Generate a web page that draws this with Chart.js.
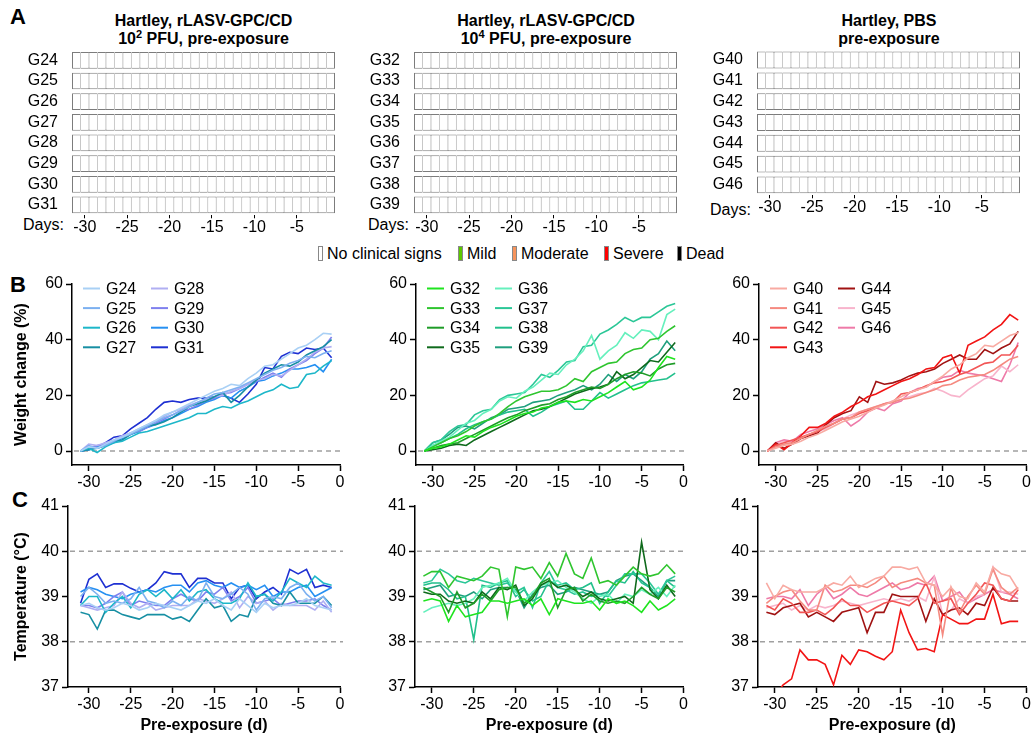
<!DOCTYPE html>
<html>
<head>
<meta charset="utf-8">
<title>Clinical signs, weight and temperature, pre-exposure</title>
<script src="https://cdn.jsdelivr.net/npm/chart.js@4.4.1/dist/chart.umd.min.js"></script>
<style>
  body { margin: 0; background: #fff; }
  #fig { position: relative; width: 1033px; height: 735px; overflow: hidden; font-family: "Liberation Sans", Arial, sans-serif; color: #000; }
  #fig canvas { position: absolute; }
  .t { position: absolute; white-space: nowrap; font-size: 16px; line-height: 16px; }
  .panel { font-size: 22px; line-height: 22px; font-weight: bold; }
  .head { width: 400px; text-align: center; font-weight: bold; line-height: 18px; }
  .sup { font-size: 11px; position: relative; top: -6px; }
  .sw { position: absolute; top: 0; width: 5px; height: 15px; box-sizing: border-box; border: 1px solid #888; }
</style>
</head>
<body>
<div id="fig">
  <div class="t panel" style="left:10px;top:6px">A</div>
  <div class="t panel" style="left:10px;top:274px">B</div>
  <div class="t panel" style="left:12px;top:489px">C</div>

  <div class="t head" style="left:3.5px;top:12px">Hartley, rLASV-GPC/CD<br>10<span class="sup">2</span> PFU, pre-exposure</div>
  <div class="t head" style="left:346px;top:12px">Hartley, rLASV-GPC/CD<br>10<span class="sup">4</span> PFU, pre-exposure</div>
  <div class="t head" style="left:689px;top:12px">Hartley, PBS<br>pre-exposure</div>

  <div class="t" style="left:23px;top:216.5px">Days:</div>
  <div class="t" style="left:368px;top:216.5px">Days:</div>
  <div class="t" style="left:710px;top:201.5px">Days:</div>

  <div id="signLegend"></div>

  <canvas id="a1" width="345" height="240" style="left:0;top:0"></canvas>
  <canvas id="a2" width="340" height="240" style="left:345px;top:0"></canvas>
  <canvas id="a3" width="348" height="220" style="left:685px;top:0"></canvas>

  <canvas id="b1" width="350" height="225" style="left:0;top:265px"></canvas>
  <canvas id="b2" width="340" height="225" style="left:350px;top:265px"></canvas>
  <canvas id="b3" width="343" height="225" style="left:690px;top:265px"></canvas>

  <canvas id="c1" width="350" height="245" style="left:0;top:490px"></canvas>
  <canvas id="c2" width="340" height="245" style="left:350px;top:490px"></canvas>
  <canvas id="c3" width="343" height="245" style="left:690px;top:490px"></canvas>
</div>

<script>
'use strict';

// days relative to exposure
const days = [-31,-30,-29,-28,-27,-26,-25,-24,-23,-22,-21,-20,-19,-18,-17,-16,-15,-14,-13,-12,-11,-10,-9,-8,-7,-6,-5,-4,-3,-2,-1];
const dayTicksA = [-30,-25,-20,-15,-10,-5];
const dayTicks = [-30,-25,-20,-15,-10,-5,0];
const weightTicks = [0,20,40,60];
const tempTicks = [37,38,39,40,41];

const groups1 = ['G24','G25','G26','G27','G28','G29','G30','G31'];
const groups2 = ['G32','G33','G34','G35','G36','G37','G38','G39'];
const groups3 = ['G40','G41','G42','G43','G44','G45','G46'];

const signLevels = ['No clinical signs','Mild','Moderate','Severe','Dead'];

// clinical score, one digit per day (-31 .. -1); 0 = no clinical signs
const signs1 = [
  '0000000000000000000000000000000','0000000000000000000000000000000',
  '0000000000000000000000000000000','0000000000000000000000000000000',
  '0000000000000000000000000000000','0000000000000000000000000000000',
  '0000000000000000000000000000000','0000000000000000000000000000000'
];
const signs2 = [
  '0000000000000000000000000000000','0000000000000000000000000000000',
  '0000000000000000000000000000000','0000000000000000000000000000000',
  '0000000000000000000000000000000','0000000000000000000000000000000',
  '0000000000000000000000000000000','0000000000000000000000000000000'
];
const signs3 = [
  '0000000000000000000000000000000','0000000000000000000000000000000',
  '0000000000000000000000000000000','0000000000000000000000000000000',
  '0000000000000000000000000000000','0000000000000000000000000000000',
  '0000000000000000000000000000000'
];

// weight change (%)
const weightG24 = [0,1.5,1,2.5,4, 5,6.5,8,9.5,11, 13,14,15.5,17,18.5, 20,21.5,22.5,24,23.5, 26,28,30.5,31,33, 35,37,38,40,42.3,42];
const weightG25 = [0,2,1,2,3.5, 5,6,7.5,9,10.5, 12,13,14.5,16,17.5, 19,20.5,21,22,23, 24.5,26,27.5,29,30, 31.5,32.5,34,33.5,35,36];
const weightG26 = [0,1,-0.5,1.5,3, 3.5,5,6.5,7,8, 9,10,11,12,13.5, 13.5,15,16,15.5,17, 18,19.5,21,22,24, 22.5,23,27.5,28,30.5,32.5];
const weightG27 = [0,0.5,1,2,3.5, 4,6,7.5,9,9.5, 10.5,12,14,16,17, 18,19.5,21,17.5,20, 23,25.5,28,29.5,31, 30.5,32,34.5,36,37.5,40];
const weightG28 = [0,2.5,2,3,4, 5.5,6.5,8,9.5,11, 12.5,14,15,16.5,17.5, 18.5,19.5,20,21.5,22.5, 24,25.5,26,27.5,27, 29,31,33,35.5,37,37.5];
const weightG29 = [0,1,2,2.5,3.5, 5,6.5,7,8.5,10, 11.5,13,14.5,15,16.5, 18,19,20.5,21,22.5, 24,25,26.5,28,26.5, 29.5,31,32.5,35,37,41];
const weightG30 = [0,0.5,1.5,2,3, 4.5,6,7,8.5,9.5, 11,12,13.5,15,16, 17.5,18.5,20,19,21.5, 23,25,25.5,27,28, 29.5,29.5,30,31,28.5,33];
const weightG31 = [0,0.5,1.5,3,5, 5.5,8,10,12,15, 17.5,18,17.5,18.5,19, 19,19.5,20,19,17.5, 20.5,24,30,29.5,34, 35.5,35,37,36.5,37,33.5];

const weightG32 = [0,1,1.5,2.5,4, 5.5,5,7,8.5,9.5, 11,12.5,13.5,14,15.5, 16,17.5,18,17.5,18.5, 18,19.5,21,23,25, 22,23,25.5,30,34,33];
const weightG33 = [0,1.5,3,4.5,5.5, 7,9,10.5,11.5,13.5, 16,18,19.5,20.5,21.5, 21.5,22,23.5,26,25, 28.5,30,31.5,32,35, 36.5,37,40,40.5,43,45];
const weightG34 = [0,1,2,2.5,3, 4.5,6,7.5,9,10.5, 12,13,14.5,15.5,16.5, 17,18.5,19.5,21,22, 23,22.5,24,26,27.5, 28.5,28,27,29.5,31,31.5];
const weightG35 = [0,0.5,1,2,2.5, 2,4,5.5,7,8.5, 10,11.5,13,14.5,15, 16,17.5,19,20.5,21.5, 22.5,23,24,28.5,26, 27.5,30,32.5,32,35.5,39];
const weightG36 = [0,2,3.5,5,7.5, 10,11,13.5,15,18, 19.5,19,21.5,23,25.5, 28,27.5,31,33,36, 41.5,33,36,38,42.5, 40.5,43.5,43,40,49,51];
const weightG37 = [0,3,4,7,9, 9.5,13,14.5,15,18.5, 20,20.5,21,24,27.5, 26.5,29,32,32.5,37.5, 38,42,43.5,45.5,48, 46.5,48,48,50,52,53];
const weightG38 = [0,2,3,4.5,6, 8,9.5,10.5,11.5,13, 14,14.5,15,12.5,14, 16,17,18,15,15, 18,21,19,20.5,22, 23.5,24.5,25,25.5,26,28];
const weightG39 = [0,3,4,6,8.5, 9,8,10,12,13, 15,15.5,16,17.5,18, 18.5,20,21,22,23.5, 22,24,27.5,25,27.5, 26,28.5,33,35,39.5,36];

const weightG40 = [0,1,2,2.5,3.5, 5,6,7.5,9,10.5, 11.5,12.5,14,15.5,16.5, 18,19.5,21,22,23, 25,27,29.5,31,33.5, 35,38,37.5,39.5,41.5,42.5];
const weightG41 = [0,1.5,2.5,3,4.5, 6,7.5,9,10,11.5, 12,14,15,16,17, 17.5,18.5,19,20,21, 22,23.5,24,25.5,26.5, 27,27.5,29,31,33,34];
const weightG42 = [0,2,3,4,5, 6,7,8.5,10,11.5, 12,13.5,14.5,15.5,17, 17.5,20.5,21,22,23.5, 24.5,25,26,27.5,28.5, 30,31.5,32,34.5,34.5,38];
const weightG43 = [0,2.5,0.5,3,5.5, 8.5,8.5,10,12.5,14, 16,17.5,19.5,20.5,22, 23.5,25,26,27.5,29.5, 30,33.5,34.5,28,38, 39.5,41,43.5,45.5,49,47];
const weightG44 = [0,3,1,2.5,4.5, 5.5,6.5,9.5,12,13.5, 14.5,19.5,17.5,25,24, 24.5,25.5,27,28,28.5, 29.5,31.5,33,34.5,33, 33,36.5,35,37,38.5,43];
const weightG45 = [0,2.5,3.5,3,4.5, 6,7,8,10,11.5, 13,14,15,16,17, 18,18.5,19.5,20.5,21, 22.5,21.5,20,19.5,22, 24,26,27,30.5,28.5,31];
const weightG46 = [0,3,4,3.5,6, 7,8,9.5,11,12, 9,11,14,15.5,14.5, 17,18,21,22.5,23, 25,26.5,27,29,28, 27.5,27,26,25,31,39];

// body temperature (°C)
const tempG24 = [38.8,38.85,38.75,38.7,38.75, 38.85,38.8,38.7,38.75,38.85, 38.8,38.75,38.7,38.8,38.9, 38.85,38.95,38.8,38.7,38.95, 38.8,38.65,38.85,38.75,38.8, 38.8,38.85,38.95,38.8,38.75,38.7];
const tempG25 = [39.0,39.2,39.05,38.85,38.9, 38.85,38.95,39.2,38.9,38.85, 38.75,38.9,38.8,39.0,38.9, 39.3,39.0,38.95,39.05,39.2, 39.05,38.7,38.95,39.0,38.95, 39.2,39.3,39.05,38.9,39.0,38.75];
const tempG26 = [38.8,39.0,39.0,38.65,38.85, 39.0,38.75,39.05,39.15,39.0, 39.15,38.95,39.15,38.9,39.1, 39.15,38.95,38.85,38.85,38.95, 39.3,39.0,39.05,38.9,39.1, 39.4,39.3,39.2,39.45,39.3,39.25];
const tempG27 = [38.65,38.6,38.28,38.7,38.7, 38.6,38.55,38.5,38.6,38.6, 38.6,38.5,38.55,38.45,38.7, 38.95,38.75,38.8,38.45,38.6, 38.55,39.0,39.05,38.85,38.8, 39.1,38.85,38.85,38.85,39.0,38.8];
const tempG28 = [38.8,38.75,38.7,38.75,38.8, 39.1,38.85,38.75,38.85,38.7, 38.75,38.8,38.8,38.8,38.95, 38.9,38.85,38.95,39.1,38.75, 39.0,38.85,38.9,38.7,38.85, 38.8,38.8,38.8,38.7,38.9,38.65];
const tempG29 = [38.8,38.8,38.75,38.85,39.0, 39.1,38.8,38.9,38.85,38.8, 38.8,38.95,39.05,38.95,38.9, 39.1,39.05,39.2,38.9,39.0, 39.2,38.85,38.9,38.95,38.8, 38.85,38.9,38.9,38.95,38.8,38.7];
const tempG30 = [39.1,39.2,39.15,39.05,39.0, 38.95,39.05,39.1,39.15,39.1, 39.2,39.25,39.25,39.1,39.3, 39.35,39.25,39.2,39.3,39.2, 39.25,39.15,39.25,39.0,39.1, 39.1,39.2,39.25,39.0,39.1,39.2];
const tempG31 = [38.85,39.38,39.5,39.2,39.28, 39.28,39.18,39.1,39.15,39.3, 39.55,39.5,39.5,39.2,39.4, 39.4,39.3,39.3,38.95,39.2, 39.25,38.95,39.1,39.2,39.05, 39.6,39.5,39.6,39.2,39.25,39.2];

const tempG32 = [38.9,38.95,38.9,38.45,38.8, 38.55,38.6,38.65,38.9,38.9, 38.85,38.9,38.95,38.8,38.95, 38.6,38.95,38.9,38.85,38.85, 38.9,38.7,38.95,38.85,38.9, 38.8,38.65,38.9,38.7,38.8,38.95];
const tempG33 = [39.45,39.55,39.55,39.2,39.45, 39.4,39.35,39.45,39.65,39.6, 38.55,39.65,39.6,39.65,39.4, 39.75,39.45,39.95,39.5,39.4, 39.85,39.3,39.35,39.25,39.45, 39.65,39.5,39.45,39.5,39.7,39.5];
const tempG34 = [39.2,39.1,39.0,38.65,39.1, 38.75,38.85,39.05,38.9,39.15, 39.2,39.2,38.85,39.0,39.3, 39.4,38.75,39.15,39.2,38.9, 39.05,38.9,38.85,38.9,38.85, 39.0,39.2,39.05,38.95,39.2,39.1];
const tempG35 = [39.1,39.05,39.05,38.9,38.85, 38.9,38.85,39.1,38.95,39.2, 39.15,39.25,38.8,38.95,39.25, 39.35,39.2,39.25,39.15,39.0, 39.1,38.95,38.9,38.95,39.0, 38.85,40.2,39.15,38.95,39.25,39.0];
const tempG36 = [38.65,38.75,38.8,38.85,38.8, 38.85,38.95,39.2,39.25,39.3, 39.4,39.1,38.9,39.1,39.25, 39.3,39.35,39.2,39.1,38.95, 38.85,39.0,39.05,38.85,39.05, 39.0,39.15,39.05,39.2,39.0,39.25];
const tempG37 = [39.3,39.35,39.6,39.5,39.35, 39.3,39.4,39.35,39.3,39.25, 39.3,39.1,39.2,38.75,39.3, 39.55,39.2,39.15,39.05,39.1, 39.0,39.05,39.0,39.25,39.5, 39.5,39.5,39.3,39.05,39.35,39.45];
const tempG38 = [39.25,39.3,39.3,39.15,38.95, 39.0,38.05,39.25,39.2,39.3, 39.35,39.0,39.15,38.9,39.0, 39.35,39.25,39.3,39.15,39.2, 39.3,38.85,39.1,39.35,39.3, 39.55,39.3,39.2,38.95,39.35,39.2];
const tempG39 = [39.15,39.2,39.25,39.0,39.05, 39.0,39.1,38.95,39.15,39.2, 39.2,39.15,38.75,39.05,39.2, 39.25,39.05,39.1,39.2,39.15, 39.1,39.05,39.1,39.35,39.45, 39.5,39.35,39.2,39.0,39.35,39.35];

const tempG40 = [39.3,38.95,39.25,39.15,39.1, 39.1,39.1,39.2,39.3,39.25, 39.45,39.2,39.3,39.4,39.45, 39.65,39.65,39.6,39.65,39.3, 39.25,39.0,39.2,39.0,38.95, 39.3,39.1,39.65,39.5,39.45,39.15];
const tempG41 = [38.85,39.0,39.1,39.15,38.9, 38.7,38.7,39.25,39.1,39.15, 39.25,39.25,39.2,39.3,39.45, 39.2,39.3,39.35,39.4,39.3, 39.25,38.15,39.2,38.65,39.0, 39.25,39.05,39.6,39.2,39.05,39.2];
const tempG42 = [38.8,38.7,38.95,38.85,38.65, 38.65,38.7,38.6,38.75,38.95, 38.8,38.8,38.65,38.75,38.85, 38.9,38.85,38.8,38.95,39.3, 38.85,38.9,38.95,38.6,38.85, 39.05,39.3,39.25,38.95,38.9,39.15];
const tempG43 = [36.6,36.8,37.05,37.18,37.82, 37.6,37.6,37.5,37.05,37.7, 37.5,37.82,37.78,37.68,37.6, 37.78,38.7,38.2,37.82,37.85, 37.78,38.6,38.5,38.4,38.4, 38.5,38.5,39.05,38.4,38.45,38.45];
const tempG44 = [38.65,38.6,38.75,38.8,38.85, 38.55,38.65,38.55,38.45,38.65, 38.7,38.75,38.2,38.65,38.65, 39.05,39.0,39.0,39.0,38.45, 38.95,38.6,38.7,38.75,38.6, 38.85,38.8,39.2,38.95,38.9,38.9];
const tempG45 = [38.75,38.8,38.85,38.7,38.8, 38.7,38.8,38.75,38.8,38.9, 38.85,38.8,38.85,38.9,38.95, 38.9,38.95,38.9,39.0,38.9, 39.43,38.6,38.7,38.95,38.85, 39.0,39.05,39.65,39.1,39.1,39.05];
const tempG46 = [38.95,39.0,39.0,38.95,39.15, 38.8,39.05,39.2,38.95,39.05, 39.2,39.05,39.0,39.1,39.2, 39.3,39.15,39.2,39.3,39.25, 39.45,38.9,39.0,39.1,38.85, 38.95,39.05,39.15,39.1,39.05,38.95];

// styles
const FONT = '"Liberation Sans", Arial, sans-serif';
const signColors = ['#ffffff', '#5cc800', '#f7945c', '#ff0000', '#000000'];
const colors1 = ['#a9d0f5','#7cb0f0','#1db7c9','#178fa3','#b0aff2','#7f80ee','#2690f2','#1e30d2'];
const colors2 = ['#1fe41f','#2fc52f','#1f9c28','#0f6a1c','#66f0bd','#2bc797','#22c08c','#1f9f7e'];
const colors3 = ['#f8aaa2','#f58a80','#f25555','#f21414','#a01212','#f8b4cc','#ee7aa8'];

Chart.defaults.font.family = FONT;
Chart.defaults.font.size = 16;
Chart.defaults.color = '#000';

// legend for the clinical sign colours
const legendX = [318, 458, 512, 604, 677];
const legendBox = document.getElementById('signLegend');
signLevels.forEach((name, i) => {
  const item = document.createElement('div');
  item.className = 't';
  item.style.left = legendX[i] + 'px';
  item.style.top = '246px';
  item.innerHTML = '<span class="sw" style="left:0;background:' + signColors[i] + '"></span>' +
    '<span style="margin-left:9px">' + name + '</span>';
  legendBox.appendChild(item);
});

function fixedTicks(values) {
  return function (scale) {
    scale.ticks = values.map(v => ({ value: v }));
  };
}

// dashed reference lines
const refLines = {
  id: 'refLines',
  beforeDatasetsDraw(chart, args, opts) {
    if (!opts || !opts.values) return;
    const ctx = chart.ctx;
    const area = chart.chartArea;
    const y = chart.scales.y;
    ctx.save();
    ctx.strokeStyle = '#a0a0a0';
    ctx.lineWidth = 1.5;
    ctx.setLineDash([5, 4]);
    opts.values.forEach(v => {
      const py = y.getPixelForValue(v);
      ctx.beginPath();
      ctx.moveTo(area.left + 2, py);
      ctx.lineTo(area.right + 3, py);
      ctx.stroke();
    });
    ctx.restore();
  }
};

// two-column group legend inside the plot
const groupLegend = {
  id: 'groupLegend',
  afterDatasetsDraw(chart, args, opts) {
    if (!opts || !opts.display) return;
    const ctx = chart.ctx;
    const area = chart.chartArea;
    ctx.save();
    ctx.font = '16px ' + FONT;
    ctx.textBaseline = 'middle';
    ctx.fillStyle = '#000';
    chart.data.datasets.forEach((ds, i) => {
      const x = area.left + 11 + Math.floor(i / 4) * 68;
      const y = area.top + 4.5 + (i % 4) * 19.6;
      ctx.strokeStyle = ds.borderColor;
      ctx.lineWidth = 2;
      ctx.beginPath();
      ctx.moveTo(x, y);
      ctx.lineTo(x + 17, y);
      ctx.stroke();
      ctx.fillText(ds.label, x + 23, y + 1);
    });
    ctx.restore();
  }
};

function gridChart(id, groups, signs, o) {
  return new Chart(document.getElementById(id), {
    type: 'bar',
    data: {
      labels: groups,
      datasets: days.map((d, k) => ({
        label: String(d),
        data: groups.map(() => [d - 0.5, d + 0.5]),
        backgroundColor: groups.map((g, r) => signColors[Number(signs[r][k])]),
        borderColor: '#7c7c7c',
        borderWidth: { top: 1, bottom: 1, left: k === 0 ? 1 : 0.5, right: k === days.length - 1 ? 1 : 0.5 },
        borderSkipped: false,
        grouped: false,
        barPercentage: 0.81,
        categoryPercentage: 1
      }))
    },
    options: {
      indexAxis: 'y',
      responsive: false,
      animation: false,
      events: [],
      layout: { padding: { top: o.top, right: o.right, left: 0, bottom: 0 } },
      plugins: { legend: { display: false }, tooltip: { enabled: false } },
      scales: {
        x: {
          type: 'linear', min: -31.5, max: -0.5,
          afterBuildTicks: fixedTicks(dayTicksA),
          afterFit: s => { s.height = o.xHeight; },
          border: { display: false },
          grid: { drawOnChartArea: false, drawTicks: true, tickLength: 3, tickColor: '#000', tickWidth: 1 },
          ticks: { padding: 0, maxRotation: 0, autoSkip: false }
        },
        y: {
          type: 'category',
          afterFit: s => { s.width = o.yWidth; },
          border: { display: false },
          grid: { display: false },
          ticks: { padding: 6, autoSkip: false }
        }
      }
    }
  });
}

function lineChart(id, groups, series, colors, o) {
  const axisLine = { display: true, color: '#000', width: 1.5 };
  const tickGrid = { drawOnChartArea: false, drawTicks: true, tickLength: 6, tickColor: '#000', tickWidth: 1.5 };
  return new Chart(document.getElementById(id), {
    type: 'line',
    data: {
      datasets: groups.map((g, i) => ({
        label: g,
        data: days.map((d, k) => ({ x: d, y: series[i][k] })),
        borderColor: colors[i],
        backgroundColor: colors[i],
        borderWidth: 1.6,
        pointRadius: 0,
        tension: 0,
        fill: false
      }))
    },
    options: {
      responsive: false,
      animation: false,
      events: [],
      layout: { padding: { top: o.top, right: o.right, left: 0, bottom: 0 } },
      plugins: {
        legend: { display: false },
        tooltip: { enabled: false },
        refLines: { values: o.refs },
        groupLegend: { display: !!o.legend }
      },
      scales: {
        x: {
          type: 'linear', min: o.xMin, max: 0,
          afterBuildTicks: fixedTicks(dayTicks),
          afterFit: s => { s.height = o.xHeight; },
          border: axisLine,
          grid: tickGrid,
          ticks: { padding: 2, maxRotation: 0, autoSkip: false },
          title: { display: !!o.xTitle, text: o.xTitle || '', font: { size: 16, weight: 'bold' }, padding: 0 }
        },
        y: {
          type: 'linear', min: o.yMin, max: o.yMax,
          afterBuildTicks: fixedTicks(o.yTicks),
          afterFit: s => { s.width = o.yWidth; },
          border: axisLine,
          grid: tickGrid,
          ticks: { padding: 3 },
          title: { display: !!o.yTitle, text: o.yTitle || '', font: { size: 16, weight: 'bold' }, padding: { top: 12.4, bottom: 0 } }
        }
      }
    },
    plugins: [refLines, groupLegend]
  });
}

// A: clinical signs
gridChart('a1', groups1, signs1, { top: 50, right: 10, yWidth: 72, xHeight: 24.7 });
gridChart('a2', groups2, signs2, { top: 50, right: 8, yWidth: 69, xHeight: 24.7 });
gridChart('a3', groups3, signs3, { top: 49.6, right: 13, yWidth: 72, xHeight: 24.7 });

// B: weight change
const weightOpts = { yMin: -5, yMax: 60, yTicks: weightTicks, refs: [0], legend: true, top: 19, xHeight: 25, xMin: -32 };
lineChart('b1', groups1, [weightG24, weightG25, weightG26, weightG27, weightG28, weightG29, weightG30, weightG31], colors1,
  Object.assign({}, weightOpts, { right: 10, yWidth: 72, yTitle: 'Weight change (%)' }));
lineChart('b2', groups2, [weightG32, weightG33, weightG34, weightG35, weightG36, weightG37, weightG38, weightG39], colors2,
  Object.assign({}, weightOpts, { right: 6, yWidth: 66 }));
lineChart('b3', groups3, [weightG40, weightG41, weightG42, weightG43, weightG44, weightG45, weightG46], colors3,
  Object.assign({}, weightOpts, { right: 5, yWidth: 69 }));

// C: temperature
const tempOpts = { yMin: 37, yMax: 41, yTicks: tempTicks, refs: [38, 40], legend: false, top: 16, xHeight: 48, xMin: -32, xTitle: 'Pre-exposure (d)' };
lineChart('c1', groups1, [tempG24, tempG25, tempG26, tempG27, tempG28, tempG29, tempG30, tempG31], colors1,
  Object.assign({}, tempOpts, { right: 10, yWidth: 68, xMin: -32.5, yTitle: 'Temperature (°C)' }));
lineChart('c2', groups2, [tempG32, tempG33, tempG34, tempG35, tempG36, tempG37, tempG38, tempG39], colors2,
  Object.assign({}, tempOpts, { right: 6, yWidth: 65 }));
lineChart('c3', groups3, [tempG40, tempG41, tempG42, tempG43, tempG44, tempG45, tempG46], colors3,
  Object.assign({}, tempOpts, { right: 5, yWidth: 68 }));
</script>
</body>
</html>
